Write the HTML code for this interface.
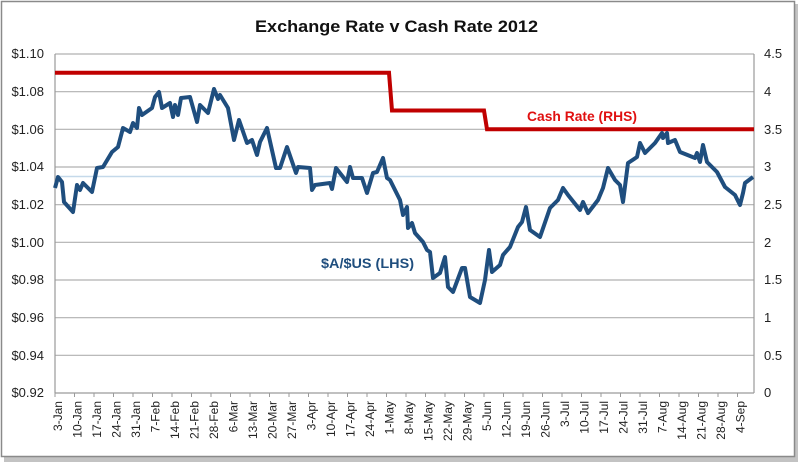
<!DOCTYPE html>
<html><head><meta charset="utf-8"><style>
html,body{margin:0;padding:0;background:#fff;}
svg{display:block;font-family:"Liberation Sans",sans-serif;}
</style></head><body>
<svg width="800" height="464" viewBox="0 0 800 464" xmlns="http://www.w3.org/2000/svg">
<rect x="0" y="0" width="800" height="464" fill="#fff"/>
<rect x="4" y="4" width="794" height="458" fill="#888" opacity="0.5"/>
<rect x="1.5" y="1.5" width="793" height="455" fill="#fff" stroke="#8a8a8a" stroke-width="1.5"/>
<text x="396.5" y="32" text-anchor="middle" font-size="17" font-weight="bold" fill="#111" textLength="283" lengthAdjust="spacingAndGlyphs">Exchange Rate v Cash Rate 2012</text>
<g stroke="#b0b0b0" stroke-width="1.2">
<line x1="55" y1="54" x2="754" y2="54"/>
<line x1="55" y1="91.7" x2="754" y2="91.7"/>
<line x1="55" y1="129.3" x2="754" y2="129.3"/>
<line x1="55" y1="167" x2="754" y2="167"/>
<line x1="55" y1="204.7" x2="754" y2="204.7"/>
<line x1="55" y1="242.3" x2="754" y2="242.3"/>
<line x1="55" y1="280" x2="754" y2="280"/>
<line x1="55" y1="317.7" x2="754" y2="317.7"/>
<line x1="55" y1="355.3" x2="754" y2="355.3"/>
</g>
<line x1="55" y1="176.5" x2="754" y2="176.5" stroke="#c5d9ea" stroke-width="1.5"/>
<g stroke="#9a9a9a" stroke-width="1.2">
<line x1="55" y1="54" x2="55" y2="393"/>
<line x1="754" y1="54" x2="754" y2="393"/>
<line x1="55" y1="393" x2="754" y2="393"/>
</g>
<g font-size="13" fill="#222" text-anchor="end">
<text x="44" y="58">$1.10</text><text x="44" y="96">$1.08</text><text x="44" y="134">$1.06</text>
<text x="44" y="171">$1.04</text><text x="44" y="209">$1.02</text><text x="44" y="247">$1.00</text>
<text x="44" y="284">$0.98</text><text x="44" y="322">$0.96</text><text x="44" y="360">$0.94</text>
<text x="44" y="397">$0.92</text>
</g>
<g font-size="13" fill="#222">
<text x="764" y="58">4.5</text><text x="764" y="96">4</text><text x="764" y="134">3.5</text>
<text x="764" y="171">3</text><text x="764" y="209">2.5</text><text x="764" y="247">2</text>
<text x="764" y="284">1.5</text><text x="764" y="322">1</text><text x="764" y="360">0.5</text>
<text x="764" y="397">0</text>
</g>
<path stroke="#9a9a9a" stroke-width="1" d="M55 393v4M74.5 393v4M94 393v4M113.5 393v4M133 393v4M152.5 393v4M172 393v4M191.5 393v4M211 393v4M230.5 393v4M250 393v4M269.5 393v4M289 393v4M308.5 393v4M328 393v4M347.5 393v4M367 393v4M386.5 393v4M406 393v4M425.5 393v4M445 393v4M464.5 393v4M484 393v4M503.5 393v4M523 393v4M542.5 393v4M562 393v4M581.5 393v4M601 393v4M620.5 393v4M640 393v4M659.5 393v4M679 393v4M698.5 393v4M718 393v4M737.5 393v4"/>
<g font-size="12" fill="#222" text-anchor="end">
<text transform="translate(62,401) rotate(-90)">3-Jan</text>
<text transform="translate(81.5,401) rotate(-90)">10-Jan</text>
<text transform="translate(101,401) rotate(-90)">17-Jan</text>
<text transform="translate(120.5,401) rotate(-90)">24-Jan</text>
<text transform="translate(140,401) rotate(-90)">31-Jan</text>
<text transform="translate(159.5,401) rotate(-90)">7-Feb</text>
<text transform="translate(179,401) rotate(-90)">14-Feb</text>
<text transform="translate(198.5,401) rotate(-90)">21-Feb</text>
<text transform="translate(218,401) rotate(-90)">28-Feb</text>
<text transform="translate(237.5,401) rotate(-90)">6-Mar</text>
<text transform="translate(257,401) rotate(-90)">13-Mar</text>
<text transform="translate(276.5,401) rotate(-90)">20-Mar</text>
<text transform="translate(296,401) rotate(-90)">27-Mar</text>
<text transform="translate(315.5,401) rotate(-90)">3-Apr</text>
<text transform="translate(335,401) rotate(-90)">10-Apr</text>
<text transform="translate(354.5,401) rotate(-90)">17-Apr</text>
<text transform="translate(374,401) rotate(-90)">24-Apr</text>
<text transform="translate(393.5,401) rotate(-90)">1-May</text>
<text transform="translate(413,401) rotate(-90)">8-May</text>
<text transform="translate(432.5,401) rotate(-90)">15-May</text>
<text transform="translate(452,401) rotate(-90)">22-May</text>
<text transform="translate(471.5,401) rotate(-90)">29-May</text>
<text transform="translate(491,401) rotate(-90)">5-Jun</text>
<text transform="translate(510.5,401) rotate(-90)">12-Jun</text>
<text transform="translate(530,401) rotate(-90)">19-Jun</text>
<text transform="translate(549.5,401) rotate(-90)">26-Jun</text>
<text transform="translate(569,401) rotate(-90)">3-Jul</text>
<text transform="translate(588.5,401) rotate(-90)">10-Jul</text>
<text transform="translate(608,401) rotate(-90)">17-Jul</text>
<text transform="translate(627.5,401) rotate(-90)">24-Jul</text>
<text transform="translate(647,401) rotate(-90)">31-Jul</text>
<text transform="translate(666.5,401) rotate(-90)">7-Aug</text>
<text transform="translate(686,401) rotate(-90)">14-Aug</text>
<text transform="translate(705.5,401) rotate(-90)">21-Aug</text>
<text transform="translate(725,401) rotate(-90)">28-Aug</text>
<text transform="translate(744.5,401) rotate(-90)">4-Sep</text>
</g>
<polyline fill="none" stroke="#c00000" stroke-width="4" stroke-linejoin="miter" points="55,72.8 389,72.8 392,110.5 484,110.5 487,129.3 754,129.3"/>
<polyline fill="none" stroke="#1f4e7e" stroke-width="4" stroke-linejoin="round" points="55,188 58,177 62,182 64,202 73,212 77,185 80,190 83,183 92,192 97,168 103,167 112,152 118,147 123,128 130,132 133,123 137,128 139,108 142,115 152,108 155,97 159,92 162,108 170,103 173,117 175,105 178,115 181,98 190,97 197,122 200,105 208,113 214,89 218,99 220,95 228,108 234,140 239,120 247,143 252,140 257,155 260,142 267,128 276,168 280,168 287,147 296,173 298,167 310,168 312,190 315,185 330,183 332,189 336,168 347,182 350,167 353,178 362,178 367,193 373,173 377,172 383,158 387,178 390,180 400,200 403,215 407,207 408,228 412,223 415,233 423,242 427,250 430,252 433,278 440,273 445,257 448,287 453,292 462,268 465,268 470,297 480,303 485,280 489,250 492,272 500,265 503,255 510,247 518,227 522,222 526,207 530,230 540,237 550,208 558,200 563,188 568,195 580,210 583,202 588,213 598,200 603,188 608,168 615,180 620,185 623,202 628,163 637,157 640,143 645,153 655,143 662,133 663,138 667,133 668,143 675,140 680,152 695,158 697,153 700,162 703,145 707,162 717,172 725,187 735,195 740,205 743,193 745,183 753,177"/>
<text x="527" y="121" font-size="14" font-weight="bold" fill="#e01010" textLength="110" lengthAdjust="spacingAndGlyphs">Cash Rate (RHS)</text>
<text x="321" y="268" font-size="14" font-weight="bold" fill="#1f4e7e" textLength="93" lengthAdjust="spacingAndGlyphs">$A/$US (LHS)</text>
</svg>
</body></html>
